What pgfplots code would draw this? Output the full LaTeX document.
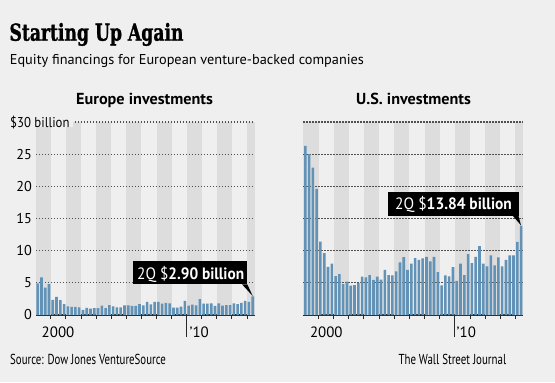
\documentclass[border=0pt]{standalone}
\usepackage{pgfplots}
\pgfplotsset{compat=1.18}
\usepackage{pgfplotstable}
\usepackage{graphicx}
\usepackage{fontspec}
\setmainfont{PT Sans}
\newfontfamily\titlefont{DejaVu Serif}[BoldFeatures={FakeBold=1.2}]
\definecolor{bg}{RGB}{239,239,239}
\definecolor{band}{RGB}{221,221,221}
\definecolor{barc}{RGB}{98,146,182}
\definecolor{gridc}{RGB}{80,80,80}
\definecolor{axc}{RGB}{40,40,40}
\newcommand\fitw[2]{\resizebox{#1}{\height}{#2}}
\newcommand\fs[1]{\fontsize{#1}{#1}\selectfont}

\pgfplotstableread{
q eu us
0.5 4.9 26.3
1.5 5.85 25.0
2.5 4.25 22.9
3.5 4.8 19.6
4.5 2.35 11.4
5.5 2.8 9.6
6.5 2.3 7.5
7.5 1.7 8.0
8.5 1.35 6.05
9.5 1.25 6.35
10.5 1.25 4.8
11.5 1.2 5.2
12.5 0.8 4.55
13.5 1.1 4.65
14.5 1.0 4.95
15.5 1.05 5.95
16.5 1.05 5.85
17.5 1.45 6.2
18.5 1.05 5.45
19.5 1.55 5.95
20.5 1.35 5.5
21.5 1.2 7.0
22.5 1.2 6.2
23.5 1.5 6.15
24.5 1.5 6.8
25.5 1.4 8.2
26.5 1.4 9.0
27.5 1.7 7.0
28.5 1.5 8.0
29.5 2.05 8.85
30.5 1.65 8.55
31.5 2.05 8.8
32.5 2.05 9.05
33.5 1.75 8.35
34.5 1.9 9.05
35.5 1.8 6.65
36.5 1.15 4.6
37.5 1.15 6.15
38.5 1.3 6.0
39.5 2.2 7.45
40.5 1.45 5.3
41.5 1.6 8.0
42.5 1.5 6.2
43.5 2.45 9.45
44.5 1.75 8.05
45.5 1.75 9.05
46.5 1.8 10.7
47.5 1.4 8.0
48.5 1.8 7.55
49.5 1.45 9.25
50.5 1.55 7.7
51.5 1.55 8.95
52.5 1.8 7.55
53.5 1.7 8.55
54.5 1.9 9.25
55.5 2.2 9.25
56.5 2.05 11.35
57.5 2.90 13.84
}\data

\pgfplotsset{panel/.style={
  scale only axis, width=#1, height=193bp,
  xmin=0, xmax=58, ymin=0, ymax=30,
  axis x line*=bottom, axis y line*=left,
  y axis line style={draw=none},
  x axis line style={line width=1.3bp, draw=axc},
  ytick={0,5,10,15,20,25,30}, yticklabels={}, ytick style={draw=none},
  xtick={4,8,12,16,20,24,28,32,36,44,48,52,56}, xticklabels={},
  tick align=outside, major tick length=4bp,
  xtick style={line width=1bp, draw=axc},
  clip=false,
}}
\tikzset{gl/.style={draw=gridc, line width=1.1bp, dash pattern=on 1.1bp off 1.9bp},
  yl/.style={anchor=east, inner sep=0pt, font=\fs{14.3}, xshift=-3.8bp}}

\begin{document}
\begin{tikzpicture}[x=1bp,y=1bp]
\fill[bg] (0,0) rectangle (555,382);
\useasboundingbox (0,0) rectangle (555,382);

% Europe panel
\begin{axis}[panel=218.8bp, at={(35.8bp,67bp)}, anchor=south west]
\fill[band] (axis cs:0,0) rectangle (axis cs:4,30);
\fill[band] (axis cs:8,0) rectangle (axis cs:12,30);
\fill[band] (axis cs:16,0) rectangle (axis cs:20,30);
\fill[band] (axis cs:24,0) rectangle (axis cs:28,30);
\fill[band] (axis cs:32,0) rectangle (axis cs:36,30);
\fill[band] (axis cs:40,0) rectangle (axis cs:44,30);
\fill[band] (axis cs:48,0) rectangle (axis cs:52,30);
\fill[band] (axis cs:56,0) rectangle (axis cs:58,30);
\draw[gl] (axis cs:0,5) -- (axis cs:58,5);
\draw[gl] (axis cs:0,10) -- (axis cs:58,10);
\draw[gl] (axis cs:0,15) -- (axis cs:58,15);
\draw[gl] (axis cs:0,20) -- (axis cs:58,20);
\draw[gl] (axis cs:0,25) -- (axis cs:58,25);
\draw[gl] (axis cs:0,30) -- (axis cs:58,30);
\addplot[ybar, bar width=2.6bp, fill=barc, draw=none] table[x=q,y=eu]{\data};
\draw[line width=1bp, axc] (axis cs:40,0) -- ++(0,-22bp);
\node[yl] at (axis cs:0,0) {0};
\node[yl] at (axis cs:0,5) {5};
\node[yl] at (axis cs:0,10) {10};
\node[yl] at (axis cs:0,15) {15};
\node[yl] at (axis cs:0,20) {20};
\node[yl] at (axis cs:0,25) {25};
\end{axis}

% US panel
\begin{axis}[panel=219.6bp, at={(303.4bp,67bp)}, anchor=south west]
\fill[band] (axis cs:0,0) rectangle (axis cs:4,30);
\fill[band] (axis cs:8,0) rectangle (axis cs:12,30);
\fill[band] (axis cs:16,0) rectangle (axis cs:20,30);
\fill[band] (axis cs:24,0) rectangle (axis cs:28,30);
\fill[band] (axis cs:32,0) rectangle (axis cs:36,30);
\fill[band] (axis cs:40,0) rectangle (axis cs:44,30);
\fill[band] (axis cs:48,0) rectangle (axis cs:52,30);
\fill[band] (axis cs:56,0) rectangle (axis cs:58,30);
\draw[gl] (axis cs:0,5) -- (axis cs:58,5);
\draw[gl] (axis cs:0,10) -- (axis cs:58,10);
\draw[gl] (axis cs:0,15) -- (axis cs:58,15);
\draw[gl] (axis cs:0,20) -- (axis cs:58,20);
\draw[gl] (axis cs:0,25) -- (axis cs:58,25);
\draw[gl] (axis cs:0,30) -- (axis cs:58,30);
\addplot[ybar, bar width=2.6bp, fill=barc, draw=none] table[x=q,y=us]{\data};
\draw[line width=1bp, axc] (axis cs:40,0) -- ++(0,-22bp);
\end{axis}

% $30 billion label
\fill[bg] (35,255.5) rectangle (72.5,262);
\node[anchor=base west, inner sep=0pt] at (10,255) {\fitw{59.3bp}{\fs{14.3}\$30 billion}};

% titles
\node[anchor=base west, inner sep=0pt] at (9.3,341.3) {\fitw{174bp}{\titlefont\bfseries\fs{23.5}Starting Up Again}};
\node[anchor=base west, inner sep=0pt] at (9.7,317.7) {\fitw{354bp}{\fs{14.3}Equity financings for European venture-backed companies}};
\node[anchor=base west, inner sep=0pt] at (76,278) {\fitw{136.7bp}{\bfseries\fs{16}Europe investments}};
\node[anchor=base west, inner sep=0pt] at (356,278) {\fitw{114.7bp}{\bfseries\fs{16}U.S. investments}};

% x labels
\node[anchor=base, inner sep=0pt, font=\fs{15}] at (58,44.7) {2000};
\node[anchor=base, inner sep=0pt, font=\fs{15}] at (326.3,44.7) {2000};
\node[anchor=base west, inner sep=0pt, font=\fs{15}] at (189.5,44.7) {’10};
\node[anchor=base west, inner sep=0pt, font=\fs{15}] at (456.5,44.7) {’10};

% annotation boxes
\fill[black] (132.7,97.7) rectangle (247.3,121);
\fill[black] (242,97.7) -- (247.3,97.7) -- (252.7,86) -- cycle;
\node[anchor=base west, inner sep=0pt, text=white] at (137,102.7) {\fitw{107bp}{\fs{16.5}2Q \$\textbf{2.90 billion}}};
\fill[black] (388.3,166) rectangle (518.5,190);
\fill[black] (513,166) -- (518.5,166) -- (521.1,156.5) -- cycle;
\node[anchor=base west, inner sep=0pt, text=white] at (395,172.7) {\fitw{116.7bp}{\fs{16.5}2Q \$\textbf{13.84 billion}}};

% footer
\node[anchor=base west, inner sep=0pt] at (10,17.7) {\fitw{155.7bp}{\fs{14.5}Source: Dow Jones VentureSource}};
\node[anchor=base west, inner sep=0pt] at (398.3,17.7) {\fitw{107.7bp}{\fs{14.5}The Wall Street Journal}};
\end{tikzpicture}
\end{document}
